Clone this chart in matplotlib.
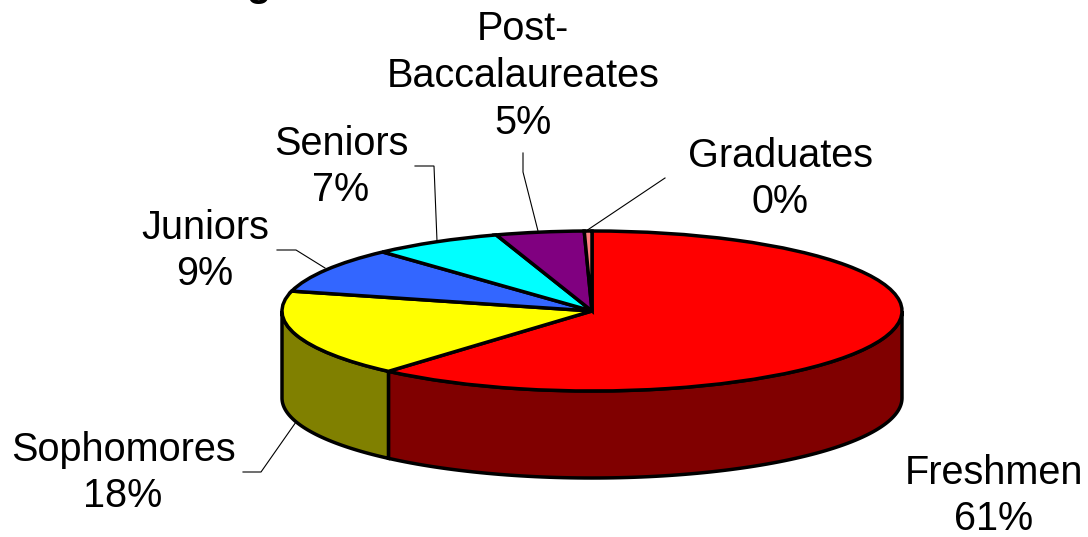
import numpy as np
from matplotlib import pyplot as plt
from matplotlib.transforms import Affine2D

W, H = 1088, 537

names = ['Freshmen', 'Sophomores', 'Juniors', 'Seniors', 'Post-\nBaccalaureates', 'Graduates']
values = [61.4, 17.6, 9.2, 6.8, 4.6, 0.4]
top_colors = ['#FF0000', '#FFFF00', '#3366FF', '#00FFFF', '#800080', '#FF8080']
side_colors = ['#800000', '#808000', '#1A3380', '#008080', '#400040', '#804040']

# pixel layout of the pie
cx, cy, rx, ry = 592, 311, 310, 80
depth = 87 / ry

label_pos = [(994, 496), (123, 473), (205, 251), (341, 167), (523, 76), (780, 179)]
leaders = [
	None,
	[(243, 472), (261, 472), (296, 422)],
	[(277, 250), (296, 250), (325, 268)],
	[(415, 166), (434, 166), (437, 241)],
	[(523, 153), (523, 172), (538, 231)],
	[(665, 178), (586, 231)],
]

plt.rcParams['font.family'] = ['Liberation Sans', 'DejaVu Sans']

fig = plt.figure(figsize=(W / 100, H / 100), dpi=100)
ax = fig.add_axes([0, 0, 1, 1])

# wedge boundaries, clockwise from twelve o'clock
edges = 90 - np.cumsum([0] + values) * 360 / sum(values)

# side wall, only the front half of the rim shows
for i in range(0, len(values)):
	t1 = max(edges[i + 1], -180)
	t2 = min(edges[i], 0)
	if t1 >= t2:
		continue
	t = np.radians(np.linspace(t1, t2, 100))
	xs = np.cos(t)
	ys = np.sin(t)
	ax.fill(np.r_[xs, xs[::-1]], np.r_[ys, ys[::-1] - depth],
		facecolor=side_colors[i], edgecolor='black', linewidth=2.5, zorder=1)

# top face, the axes limits squash the unit circle to the ellipse
ax.pie(values, colors=top_colors, startangle=90, counterclock=False, radius=1,
	wedgeprops={'edgecolor': 'black', 'linewidth': 2.5, 'zorder': 2})
ax.set_aspect('auto')
ax.set_xlim((0 - cx) / rx, (W - cx) / rx)
ax.set_ylim((cy - H) / ry, cy / ry)

px = Affine2D().scale(1 / W, -1 / H).translate(0, 1) + fig.transFigure

for i in range(0, len(names)):
	ax.text(label_pos[i][0], label_pos[i][1], names[i] + '\n%.0f%%' % values[i],
		transform=px, ha='center', va='center', fontsize=28.5, linespacing=1.29,
		color='black', zorder=5)
	if leaders[i] is not None:
		pts = np.array(leaders[i])
		ax.plot(pts[:, 0], pts[:, 1], transform=px, color='black', linewidth=0.8,
			zorder=4, solid_joinstyle='miter')

# title sits almost entirely above the canvas, only this descender is left
ax.text(258, -15, 'g', transform=px, ha='center', va='center', fontsize=28.5,
	fontweight='bold', color='black')

fig.savefig('out.png', dpi=100)
